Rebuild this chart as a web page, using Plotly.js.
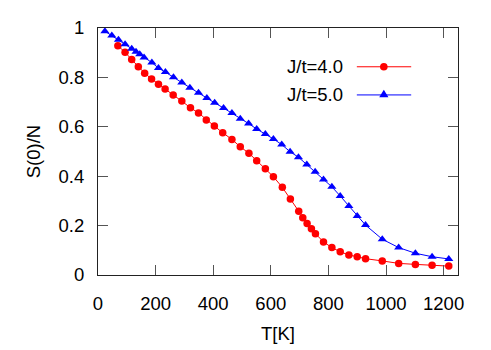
<!DOCTYPE html>
<html>
<head>
<meta charset="utf-8">
<script src="https://cdn.plot.ly/plotly-3.0.1.min.js"></script>
<style>html,body{margin:0;padding:0;background:#fff;}#chart{width:491px;height:350px;}</style>
</head>
<body>
<div id="chart"></div>
<script>
// J/t = 4.0 series
const T_J4 = [69, 94, 117, 140, 162, 186, 210, 233, 261, 291, 321, 349,
  376, 404, 433, 465, 494, 524, 551, 581, 609,
  640, 668, 697, 711, 726, 741, 755, 783, 812, 841, 871, 900, 929, 987, 1044, 1102, 1160, 1218];
const S_J4 = [0.928, 0.902, 0.872, 0.843, 0.817, 0.794, 0.772, 0.753, 0.729, 0.704, 0.677, 0.656,
  0.628, 0.603, 0.576, 0.549, 0.519, 0.493, 0.463, 0.430, 0.398,
  0.355, 0.308, 0.258, 0.232, 0.209, 0.187, 0.167, 0.134, 0.111, 0.094, 0.081, 0.074, 0.066, 0.057, 0.047, 0.043, 0.039, 0.036];
// J/t = 5.0 series
const T_J5 = [24, 48, 71, 94, 117, 132, 145, 160, 187, 210,
  234, 262, 291, 319, 349, 378, 405, 436, 465, 494,
  523, 551, 581, 609, 638, 667, 696, 725, 754, 783,
  812, 841, 871, 900, 929, 987, 1044, 1102, 1160, 1218];
const S_J5 = [0.987, 0.970, 0.952, 0.934, 0.916, 0.904, 0.894, 0.881, 0.860, 0.838,
  0.822, 0.801, 0.779, 0.758, 0.738, 0.717, 0.697, 0.676, 0.656, 0.633,
  0.613, 0.591, 0.571, 0.551, 0.528, 0.499, 0.477, 0.447, 0.418, 0.387,
  0.357, 0.320, 0.279, 0.239, 0.202, 0.145, 0.111, 0.088, 0.074, 0.065];
const seriesNames = ["J/t=4.0", "J/t=5.0"];
const xTicks = [0, 200, 400, 600, 800, 1000, 1200];
const yTicks = [0, 0.2, 0.4, 0.6, 0.8, 1];
const xLabel = "T[K]";
const yLabel = "S(0)/N";

const RED = "#ff0000", BLUE = "#0000ff";
const FONT = "Liberation Sans, Arial, sans-serif";

const traces = [
  {x: T_J4, y: S_J4, name: seriesNames[0], type: "scatter", mode: "lines+markers",
   line: {color: RED, width: 1}, marker: {color: RED, size: 7.5, symbol: "circle"}, showlegend: false},
  {x: T_J5, y: S_J5, name: seriesNames[1], type: "scatter", mode: "lines+markers",
   line: {color: BLUE, width: 1}, marker: {color: BLUE, size: 8, symbol: "triangle-up"}, showlegend: false}
];

// legend (gnuplot-style: text left, sample right)
const legY = [0.843, 0.729];
const legTextX = 0.687, legX0 = 0.719, legX1 = 0.870, legMX = 0.794;
const annotations = seriesNames.map((n, i) => ({
  text: n, xref: "paper", yref: "paper", x: legTextX, y: legY[i],
  xanchor: "right", yanchor: "middle", showarrow: false,
  font: {family: FONT, size: 18.5, color: "#000"}
}));
const shapes = [
  {type: "line", xref: "paper", yref: "paper", x0: legX0, x1: legX1, y0: legY[0], y1: legY[0], line: {color: RED, width: 1}},
  {type: "line", xref: "paper", yref: "paper", x0: legX0, x1: legX1, y0: legY[1], y1: legY[1], line: {color: BLUE, width: 1}},
  {type: "circle", xref: "paper", yref: "paper", xsizemode: "pixel", ysizemode: "pixel",
   xanchor: legMX, yanchor: legY[0], x0: -3.8, x1: 3.8, y0: -3.8, y1: 3.8,
   fillcolor: RED, line: {color: RED, width: 0}},
  {type: "path", xref: "paper", yref: "paper", xsizemode: "pixel", ysizemode: "pixel",
   xanchor: legMX, yanchor: legY[1], path: "M-4.6,-2.3 L4.6,-2.3 L0,5.3 Z",
   fillcolor: BLUE, line: {color: BLUE, width: 0}}
];

const axisCommon = {
  showgrid: false, zeroline: false, showline: true, linecolor: "#222", linewidth: 1,
  mirror: "allticks", ticks: "inside", ticklen: 10, tickcolor: "#555", tickwidth: 1,
  tickfont: {family: FONT, size: 18.5, color: "#000"}
};

const layout = {
  width: 491, height: 350,
  margin: {l: 98, r: 33, t: 28, b: 75},
  paper_bgcolor: "#fff", plot_bgcolor: "#fff",
  font: {family: FONT, size: 18.5, color: "#000"},
  xaxis: Object.assign({}, axisCommon, {
    range: [0, 1250], tickvals: xTicks, ticktext: xTicks.map(String),
    ticklabelstandoff: 12,
    title: {text: xLabel, font: {family: FONT, size: 18.5}, standoff: 13}
  }),
  yaxis: Object.assign({}, axisCommon, {
    range: [0, 1], tickvals: yTicks, ticktext: yTicks.map(v => String(v)),
    ticklabelstandoff: 9,
    title: {text: yLabel, font: {family: FONT, size: 18.5}, standoff: 13}
  }),
  annotations: annotations,
  shapes: shapes,
  showlegend: false
};

Plotly.newPlot("chart", traces, layout, {displayModeBar: false, staticPlot: true});
</script>
</body>
</html>
